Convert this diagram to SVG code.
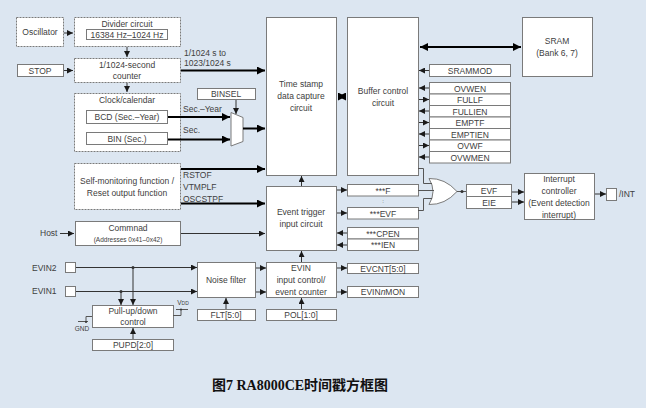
<svg xmlns="http://www.w3.org/2000/svg" width="646" height="408" viewBox="0 0 646 408">
<defs>
<marker id="a" viewBox="0 0 10 10" refX="10" refY="5" markerWidth="6" markerHeight="6" markerUnits="userSpaceOnUse" orient="auto-start-reverse"><path d="M0,0 L10,5 L0,10 Z" fill="#1a1a1a"/></marker>
<marker id="b" viewBox="0 0 10 10" refX="10" refY="5" markerWidth="8" markerHeight="8" markerUnits="userSpaceOnUse" orient="auto-start-reverse"><path d="M0,0 L10,5 L0,10 Z" fill="#000"/></marker>
<style>
.bx{fill:#fff;stroke:#7a7a7a;stroke-width:1}
.dx{fill:#fff;stroke:#7a7a7a;stroke-width:1;stroke-dasharray:2 1}
.t{font-family:"Liberation Sans",Arial,sans-serif;font-size:8.5px;fill:#404040;text-anchor:middle}
.l{font-family:"Liberation Sans",Arial,sans-serif;font-size:8.5px;fill:#404040}
.s{font-family:"Liberation Sans",Arial,sans-serif;font-size:6.5px;fill:#404040;text-anchor:middle}
.w{fill:none;stroke:#333;stroke-width:1;marker-end:url(#a)}
.k{fill:none;stroke:#000;stroke-width:2;marker-end:url(#b)}
.n{fill:none;stroke:#555;stroke-width:1}
</style>
</defs>
<rect width="646" height="408" fill="#dce6f1"/>

<g id="oscillator"><rect class="dx" x="16.5" y="17.5" width="47" height="29"/><text class="t" x="40" y="35">Oscillator</text></g>
<g id="divider"><rect class="dx" x="74.5" y="17.5" width="106" height="29"/><text class="t" x="127" y="27">Divider circuit</text><rect class="bx" x="86.5" y="29.5" width="81" height="10"/><text class="t" x="127" y="38">16384 Hz–1024 Hz</text></g>
<g id="stop"><rect class="bx" x="17.5" y="64.5" width="46" height="12"/><text class="t" x="40" y="74">STOP</text></g>
<g id="counter"><rect class="dx" x="74.5" y="58.5" width="106" height="24"/><text class="t" x="127" y="68">1/1024-second</text><text class="t" x="127" y="79">counter</text></g>
<g id="clock"><rect class="dx" x="74.5" y="93.5" width="106" height="58"/><text class="t" x="127" y="103">Clock/calendar</text>
<rect class="bx" x="86.5" y="110.5" width="81" height="13"/><text class="t" x="127" y="120">BCD (Sec.–Year)</text>
<rect class="bx" x="86.5" y="132.5" width="81" height="12"/><text class="t" x="127" y="142">BIN (Sec.)</text></g>
<g id="binsel"><rect class="bx" x="197.5" y="88.5" width="58" height="11"/><text class="t" x="226" y="97">BINSEL</text></g>
<g id="mux"><polygon class="bx" points="231,112.5 243,117.5 243,141.5 231,146"/></g>
<g id="selfmon"><rect class="dx" x="74.5" y="163.5" width="106" height="46"/><text class="t" x="127" y="184">Self-monitoring function /</text><text class="t" x="127" y="196">Reset output function</text></g>
<g id="host"><text class="l" x="40" y="236">Host</text></g>
<g id="command"><rect class="bx" x="75.5" y="221.5" width="105" height="24"/><text class="t" x="128" y="231">Commnad</text><text class="s" x="128" y="242">(Addresses 0x41–0x42)</text></g>
<g id="timestamp"><rect class="bx" x="266.5" y="17.5" width="70" height="158"/><text class="t" x="301" y="87">Time stamp</text><text class="t" x="301" y="99">data capture</text><text class="t" x="301" y="111">circuit</text></g>
<g id="buffer"><rect class="bx" x="347.5" y="17.5" width="71" height="158"/><text class="t" x="383" y="94">Buffer control</text><text class="t" x="383" y="106">circuit</text></g>
<g id="sram"><rect class="bx" x="522.5" y="17.5" width="70" height="59"/><text class="t" x="557" y="44">SRAM</text><text class="t" x="557" y="56">(Bank 6, 7)</text></g>
<g id="srammod"><rect class="bx" x="429.5" y="64.5" width="81" height="12"/><text class="t" x="470" y="74">SRAMMOD</text></g>
<g id="regs">
<rect class="bx" x="429.5" y="82.5" width="81" height="11.5"/><text class="t" x="470" y="91.5">OVWEN</text>
<rect class="bx" x="429.5" y="94" width="81" height="11.5"/><text class="t" x="470" y="103">FULLF</text>
<rect class="bx" x="429.5" y="105.5" width="81" height="11.5"/><text class="t" x="470" y="114.5">FULLIEN</text>
<rect class="bx" x="429.5" y="117" width="81" height="11.5"/><text class="t" x="470" y="126">EMPTF</text>
<rect class="bx" x="429.5" y="128.5" width="81" height="11.5"/><text class="t" x="470" y="137.5">EMPTIEN</text>
<rect class="bx" x="429.5" y="140" width="81" height="11.5"/><text class="t" x="470" y="149">OVWF</text>
<rect class="bx" x="429.5" y="151.5" width="81" height="11.5"/><text class="t" x="470" y="160.5">OVWMEN</text>
</g>
<g id="eventtrigger"><rect class="bx" x="266.5" y="186.5" width="70" height="64"/><text class="t" x="301" y="215">Event trigger</text><text class="t" x="301" y="227">input circuit</text></g>
<g id="flagF"><rect class="bx" x="347.5" y="184.5" width="71" height="11.5"/><text class="t" x="383" y="193.5">***F</text><text class="t" x="383" y="203" style="font-size:6px">:</text></g>
<g id="flagEVF"><rect class="bx" x="347.5" y="207.5" width="71" height="11.5"/><text class="t" x="383" y="216.5">***EVF</text></g>
<g id="cpen"><rect class="bx" x="347.5" y="227.5" width="71" height="11.5"/><text class="t" x="383" y="236.5">***CPEN</text>
<rect class="bx" x="347.5" y="239" width="71" height="11.5"/><text class="t" x="383" y="248">***IEN</text></g>
<g id="orgate"><path d="M429,178.5 Q445,178 457,191.5 Q445,205 429,204.5 Q437,191.5 429,178.5 Z" fill="#fff" stroke="#7a7a7a"/></g>
<g id="evfeie"><rect class="bx" x="466.5" y="184.5" width="45" height="12"/><text class="t" x="489" y="194">EVF</text>
<rect class="bx" x="466.5" y="196.5" width="45" height="12"/><text class="t" x="489" y="206">EIE</text></g>
<g id="intctrl"><rect class="bx" x="524.5" y="173.5" width="70" height="46"/><text class="t" x="559" y="182">Interrupt</text><text class="t" x="559" y="194">controller</text><text class="t" x="559" y="206">(Event detection</text><text class="t" x="559" y="218">interrupt)</text></g>
<g id="intpin"><rect class="bx" x="606.5" y="188.5" width="10" height="12"/><text class="l" x="619" y="197">/INT</text></g>
<g id="evin2"><text class="l" x="32" y="271">EVIN2</text><rect class="bx" x="65.5" y="262.5" width="10" height="10"/></g>
<g id="evin1"><text class="l" x="32" y="294">EVIN1</text><rect class="bx" x="65.5" y="286.5" width="10" height="10"/></g>
<g id="noise"><rect class="bx" x="197.5" y="262.5" width="58" height="35"/><text class="t" x="226" y="283">Noise filter</text></g>
<g id="flt"><rect class="bx" x="197.5" y="309.5" width="58" height="11"/><text class="t" x="226" y="318">FLT[5:0]</text></g>
<g id="evinctrl"><rect class="bx" x="266.5" y="262.5" width="70" height="35"/><text class="t" x="301" y="271">EVIN</text><text class="t" x="301" y="283">input control/</text><text class="t" x="301" y="295">event counter</text></g>
<g id="pol"><rect class="bx" x="266.5" y="309.5" width="70" height="11"/><text class="t" x="301" y="318">POL[1:0]</text></g>
<g id="evcnt"><rect class="bx" x="347.5" y="263.5" width="71" height="10"/><text class="t" x="383" y="272">EVCNT[5:0]</text></g>
<g id="evinmon"><rect class="bx" x="347.5" y="286.5" width="71" height="11"/><text class="t" x="383" y="295">EVIN<tspan font-style="italic">n</tspan>MON</text></g>
<g id="pullup"><rect class="bx" x="92.5" y="305.5" width="81" height="22"/><text class="t" x="133" y="314">Pull-up/down</text><text class="t" x="133" y="325">control</text>
<path class="n" d="M92,316.5 H86 V321.5 M78,321.5 H88"/><circle cx="86" cy="322" r="1" fill="#333"/><text class="s" x="82" y="331">GND</text>
<path class="n" d="M173,315.5 H181 V309.5 M176,309.5 H188"/><circle cx="181" cy="309.5" r="1" fill="#333"/><text class="s" x="183" y="305">V<tspan font-size="5px">DD</tspan></text></g>
<g id="pupd"><rect class="bx" x="92.5" y="339.5" width="81" height="11"/><text class="t" x="133" y="348">PUPD[2:0]</text></g>

<g id="connectors">
<path class="w" d="M64,33 H73"/>
<path class="w" d="M127,47 V57"/>
<path class="w" d="M64,70.5 H73"/>
<path class="w" d="M127,83 V92"/>
<path class="k" d="M181,70.5 H265"/>
<text class="l" x="184" y="56">1/1024 s to</text><text class="l" x="184" y="66">1023/1024 s</text>
<path class="k" d="M168,117 H230"/>
<path class="k" d="M168,139.5 H230"/>
<text class="l" x="183" y="112">Sec.–Year</text><text class="l" x="183" y="133">Sec.</text>
<path class="w" d="M236,100 V114"/>
<path class="k" d="M243,128.5 H265"/>
<path class="k" d="M181,169 H265"/>
<path class="k" d="M181,203.5 H265"/>
<text class="l" x="183" y="178">RSTOF</text><text class="l" x="183" y="190">VTMPLF</text><text class="l" x="183" y="202">OSCSTPF</text>
<path class="w" d="M60,233.5 H74"/>
<path class="w" d="M181,233.5 H265"/>
<path class="k" d="M338,96.5 H346" style="marker-start:url(#b)"/>
<path class="k" d="M420,47 H521" style="marker-start:url(#b)"/>
<path class="w" d="M429,70.5 H419"/>
<path class="w" d="M429,88 H419"/>
<path class="w" d="M419,99.5 H429"/>
<path class="w" d="M429,111 H419"/>
<path class="w" d="M419,122.5 H429"/>
<path class="w" d="M429,134 H419"/>
<path class="w" d="M419,145.5 H429"/>
<path class="w" d="M429,157 H419"/>
<path class="w" d="M301.5,186 V176"/>
<path class="w" d="M337,190 H347"/>
<path class="w" d="M337,213 H347"/>
<path class="w" d="M347,233 H337"/>
<path class="w" d="M347,245 H337"/>
<path class="n" d="M418,168.5 H423.5 V183.5 H432"/>
<path class="n" d="M418,190.5 H434"/>
<path class="n" d="M418,210.5 H423.5 V198.5 H432"/>
<path class="n" d="M457,191.5 H466"/><circle cx="462" cy="191.5" r="1.5" fill="#333"/>
<path class="w" d="M512,192 H524"/>
<path class="w" d="M512,202 H524"/>
<path class="w" d="M595,194 H606"/>
<path class="w" d="M76,267.5 H197"/>
<path class="w" d="M76,291.5 H197"/>
<circle cx="133" cy="267.5" r="1.5" fill="#333"/><circle cx="121" cy="291.5" r="1.5" fill="#333"/>
<path class="w" d="M133,267.5 V305"/>
<path class="w" d="M121,291.5 V305"/>
<path class="w" d="M226,309 V298"/>
<path class="w" d="M256,268 H266"/>
<path class="w" d="M256,292 H266"/>
<path class="w" d="M301.5,262 V251"/>
<path class="w" d="M301.5,309 V298"/>
<path class="w" d="M337,268 H347"/>
<path class="w" d="M337,292 H347"/>
<path class="w" d="M133,339 V328"/>
</g>
<text x="300" y="390" style="font-family:'Liberation Serif','Noto Sans CJK SC',serif;font-size:14px;font-weight:bold;fill:#111;text-anchor:middle">图7 RA8000CE时间戳方框图</text>
</svg>
